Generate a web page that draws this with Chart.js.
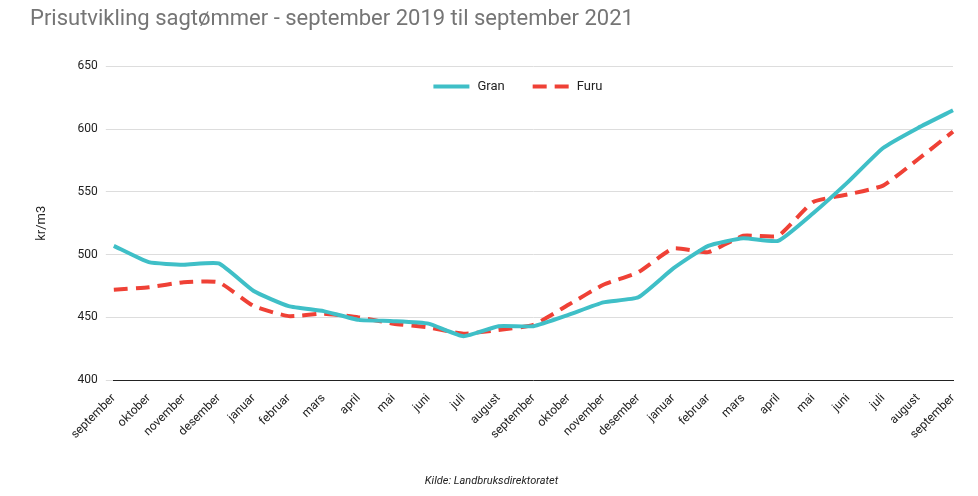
<!DOCTYPE html>
<html><head><meta charset="utf-8">
<script src="https://cdn.jsdelivr.net/npm/chart.js@4"></script>
<style>body{margin:0;background:#fff}#w{width:978px;height:496px}</style>
</head><body><div id="w"><canvas id="c"></canvas></div>
<script>
const labels=["september","oktober","november","desember","januar","februar","mars","april","mai","juni","juli","august","september","oktober","november","desember","januar","februar","mars","april","mai","juni","juli","august","september"];
const gran=[507,494,492,493,471,459,455,448,447,445,435,443,443,452,462,466,489,507,513,511,533,558,585,601,615];
const furu=[472,474,478,478,459,451,453,450,445,442,437,440,444,460,476,486,505,502,515,515,542,548,555,576,598];
const yTicks=[400,450,500,550,600,650];
Chart.defaults.font.family="Roboto";
const legendPlugin={id:'lg',afterDraw(ch){
  const c=ch.ctx,y=ch.chartArea.top+20,cx=(ch.chartArea.left+ch.chartArea.right)/2;
  c.save();c.font='13px Roboto';c.textBaseline='middle';c.fillStyle='#222';
  const items=[{t:'Gran',col:'#3fbfc7',dash:[]},{t:'Furu',col:'#ef4136',dash:[14,8]}];
  let x=cx-100;
  items.forEach(it=>{c.strokeStyle=it.col;c.lineWidth=4;c.setLineDash(it.dash);c.beginPath();c.moveTo(x,y);c.lineTo(x+36,y);c.stroke();c.setLineDash([]);
    c.fillText(it.t,x+44,y);x+=44+c.measureText(it.t).width+28;});
  c.restore();}};
new Chart(document.getElementById('c'),{type:'line',
data:{labels,datasets:[
{label:'Gran',data:gran,borderColor:'#3fbfc7',backgroundColor:'#3fbfc7',borderWidth:4,pointRadius:0,tension:0.15},
{label:'Furu',data:furu,borderColor:'#ef4136',backgroundColor:'#ef4136',borderWidth:4,borderDash:[14,8],pointRadius:0,tension:0.15}]},
plugins:[legendPlugin],
options:{responsive:true,maintainAspectRatio:false,animation:false,
layout:{padding:{left:30,right:25,top:0,bottom:8}},
plugins:{title:{display:true,text:'Prisutvikling sagtømmer - september 2019 til september 2021',align:'start',color:'#757575',font:{size:22,weight:'normal'},padding:{top:6,bottom:34}},
legend:{display:false},
subtitle:{display:true,position:'bottom',text:'Kilde: Landbruksdirektoratet',color:'#222',font:{size:11,style:'italic'},padding:{top:30}}},
scales:{x:{grid:{display:false},border:{color:'#222'},ticks:{color:'#222',font:{size:12},maxRotation:45,minRotation:45,autoSkip:false}},
y:{min:400,max:650,afterBuildTicks:a=>{a.ticks=yTicks.map(v=>({value:v}))},grid:{color:'#ddd'},border:{display:false},ticks:{color:'#222',font:{size:12},padding:8},
title:{display:true,text:'kr/m3',color:'#222',font:{size:13},padding:{bottom:20}}}}}});
</script></body></html>
